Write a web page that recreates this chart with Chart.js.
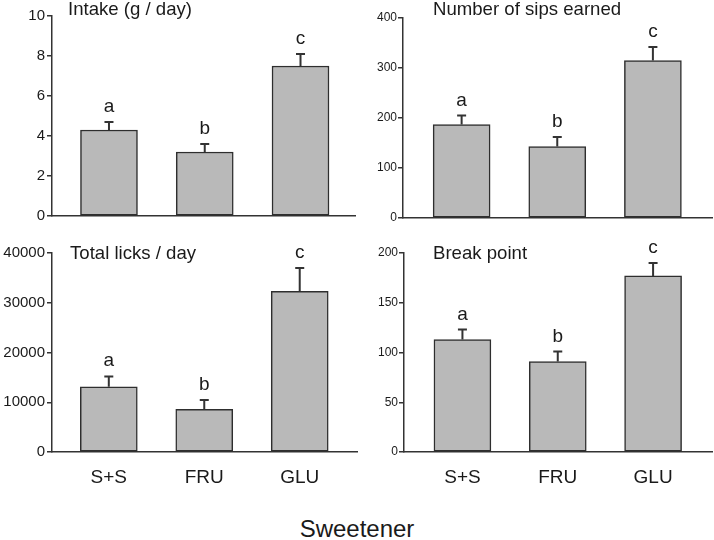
<!DOCTYPE html>
<html>
<head>
<meta charset="utf-8">
<script src="https://cdn.jsdelivr.net/npm/chart.js@4.4.1/dist/chart.umd.min.js"></script>
<style>
  body { margin: 0; background: #fff; width: 714px; height: 540px; position: relative; overflow: hidden;
         font-family: "Liberation Sans", Arial, sans-serif; }
  canvas { position: absolute; }
  #xlab { position: absolute; left: 0; top: 514px; width: 714px; text-align: center;
          font-size: 24px; line-height: 30px; color: #1a1a1a; }
</style>
</head>
<body>
<canvas id="intake" width="360" height="230" style="left:0;top:0"></canvas>
<canvas id="sips" width="354" height="230" style="left:360px;top:0"></canvas>
<canvas id="licks" width="360" height="260" style="left:0;top:230px"></canvas>
<canvas id="breakpt" width="354" height="260" style="left:360px;top:230px"></canvas>
<div id="xlab">Sweetener</div>
<script>
// values (mean and SEM per sweetener)
const sweeteners = ['S+S', 'FRU', 'GLU'];
const groupLetters = ['a', 'b', 'c'];

const intakeMean = [4.3, 3.2, 7.5];
const intakeSem = [0.4, 0.4, 0.6];

const sipsMean = [187, 143, 315];
const sipsSem = [18, 19, 27];

const licksMean = [13100, 8600, 32300];
const licksSem = [2100, 1850, 4700];

const breakMean = [113, 91, 177];
const breakSem = [10, 10, 13];

const FONT = '"Liberation Sans", Arial, sans-serif';
const INK = '#1a1a1a';
const AXIS = '#333';

// error bars (upper only), significance letters and the panel title
const extras = {
  id: 'extras',
  afterDatasetsDraw(chart, args, opts) {
    const { ctx, chartArea, scales: { x, y } } = chart;
    const pts = chart.data.datasets[0].data;
    ctx.save();
    ctx.strokeStyle = AXIS;
    ctx.lineWidth = 2;
    ctx.fillStyle = INK;
    ctx.textAlign = 'center';
    ctx.textBaseline = 'alphabetic';
    ctx.font = '19px ' + FONT;
    pts.forEach((pt, i) => {
      const px = x.getPixelForValue(pt.x);
      const yb = y.getPixelForValue(pt.y);
      const yt = y.getPixelForValue(pt.y + opts.sem[i]);
      ctx.beginPath();
      ctx.moveTo(px, yb);
      ctx.lineTo(px, yt);
      ctx.moveTo(px - 4.5, yt);
      ctx.lineTo(px + 4.5, yt);
      ctx.stroke();
      ctx.fillText(groupLetters[i], px, yt - 10);
    });
    ctx.textAlign = 'left';
    ctx.font = '18.6px ' + FONT;
    ctx.fillText(opts.title, chartArea.left + opts.titleDx, opts.titleY);
    ctx.restore();
  }
};

function makePanel(id, mean, sem, cfg) {
  return new Chart(document.getElementById(id), {
    type: 'bar',
    data: {
      datasets: [{
        data: sweeteners.map((s, i) => ({ x: i, y: mean[i] })),
        backgroundColor: '#b9b9b9',
        borderColor: '#2e2e2e',
        borderWidth: 1.5,
        borderSkipped: false,
        barThickness: 57
      }]
    },
    options: {
      responsive: false,
      animation: false,
      layout: { padding: { top: cfg.padTop, right: cfg.padRight, left: 0, bottom: 0 } },
      plugins: {
        legend: { display: false },
        tooltip: { enabled: false },
        extras: { sem: sem, title: cfg.title, titleDx: cfg.titleDx, titleY: cfg.titleY }
      },
      scales: {
        x: {
          type: 'linear',
          offset: false,
          bounds: 'ticks',
          min: cfg.xMin,
          max: cfg.xMax,
          grid: { display: false, drawTicks: false },
          border: { display: true, color: AXIS, width: 1.5 },
          ticks: {
            display: cfg.showX,
            stepSize: 1,
            includeBounds: false,
            autoSkip: false,
            maxRotation: 0,
            padding: 14,
            color: INK,
            font: { family: FONT, size: 19 },
            callback: v => Number.isInteger(v) ? sweeteners[v] : ''
          },
          afterFit: s => { s.height = cfg.xHeight; }
        },
        y: {
          min: 0,
          max: cfg.yMax,
          grid: { drawOnChartArea: false, drawTicks: true, tickLength: 5, color: AXIS, lineWidth: 1.5 },
          border: { display: true, color: AXIS, width: 1.5 },
          ticks: {
            stepSize: cfg.yStep,
            padding: cfg.tickPad,
            color: INK,
            font: { family: FONT, size: cfg.tickSize },
            callback: v => String(v)
          },
          afterFit: s => { s.width = cfg.yWidth; }
        }
      }
    },
    plugins: [extras]
  });
}

makePanel('intake', intakeMean, intakeSem, {
  yMax: 10, yStep: 2, tickSize: 15, tickPad: 2, yWidth: 52,
  padTop: 16, padRight: 5, xHeight: 14, showX: false,
  xMin: -0.595, xMax: 2.569,
  title: 'Intake (g / day)', titleDx: 16, titleY: 15
});

makePanel('sips', sipsMean, sipsSem, {
  yMax: 400, yStep: 100, tickSize: 12, tickPad: 1, yWidth: 43,
  padTop: 18, padRight: 2, xHeight: 12, showX: false,
  xMin: -0.613, xMax: 2.618,
  title: 'Number of sips earned', titleDx: 30, titleY: 15
});

makePanel('licks', licksMean, licksSem, {
  yMax: 40000, yStep: 10000, tickSize: 15, tickPad: 2, yWidth: 52,
  padTop: 23, padRight: 3, xHeight: 38, showX: true,
  xMin: -0.595, xMax: 2.6,
  title: 'Total licks / day', titleDx: 18, titleY: 29
});

makePanel('breakpt', breakMean, breakSem, {
  yMax: 200, yStep: 50, tickSize: 12, tickPad: 1, yWidth: 44,
  padTop: 23, padRight: 2, xHeight: 38, showX: true,
  xMin: -0.613, xMax: 2.618,
  title: 'Break point', titleDx: 29, titleY: 29
});
</script>
</body>
</html>
